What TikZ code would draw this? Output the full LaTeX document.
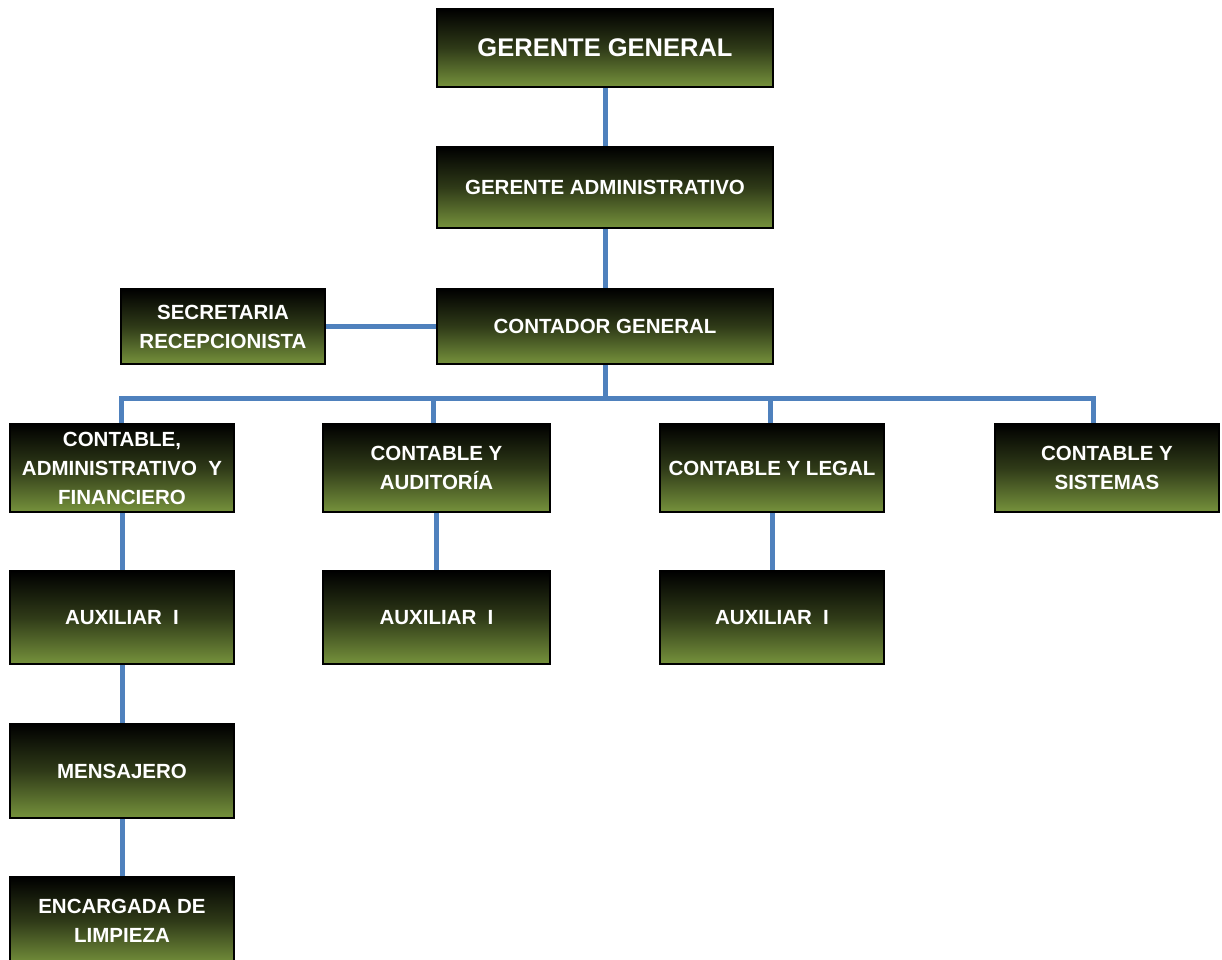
\documentclass[tikz,border=0pt]{standalone}
\usepackage{fontspec}
\setmainfont{Liberation Sans}
\usetikzlibrary{backgrounds,calc}
\definecolor{olivebot}{RGB}{118,146,60}
\definecolor{linkblue}{RGB}{79,129,189}
\begin{document}
\begin{tikzpicture}[x=1pt,y=-1pt,
  box/.style={draw=black, line width=2pt, rectangle, inner sep=0pt,
    top color=black, bottom color=olivebot, middle color={black!60!olivebot},
    text=white, font=\bfseries\fontsize{20.5}{29}\selectfont, align=center},
  link/.style={draw=linkblue, line width=5pt}]
\useasboundingbox (0,0) rectangle (1222,959);
\begin{scope}
\clip (0,0) rectangle (1222,959);
\node[box, minimum width=336, minimum height=78, font=\bfseries\fontsize{25.5}{29}\selectfont] (gg) at (605,48) {GERENTE GENERAL};
\node[box, minimum width=336, minimum height=81] (ga) at (605,187.5) {GERENTE ADMINISTRATIVO};
\node[box, minimum width=336, minimum height=75] (cg) at (605,326.5) {CONTADOR GENERAL};
\node[box, minimum width=204, minimum height=75] (sr) at (223,326.5) {SECRETARIA\\RECEPCIONISTA};
\node[box, minimum width=224, minimum height=88] (caf) at (122,468) {CONTABLE,\\ADMINISTRATIVO\ \ Y\\FINANCIERO};
\node[box, minimum width=227, minimum height=88] (ca) at (436.5,468) {CONTABLE Y\\AUDITORÍA};
\node[box, minimum width=224, minimum height=88] (cl) at (772,468) {CONTABLE Y LEGAL};
\node[box, minimum width=224, minimum height=88] (cs) at (1107,468) {CONTABLE Y\\SISTEMAS};
\node[box, minimum width=224, minimum height=93] (a1) at (122,617.5) {AUXILIAR\ \ I};
\node[box, minimum width=227, minimum height=93] (a2) at (436.5,617.5) {AUXILIAR\ \ I};
\node[box, minimum width=224, minimum height=93] (a3) at (772,617.5) {AUXILIAR\ \ I};
\node[box, minimum width=224, minimum height=94] (me) at (122,771) {MENSAJERO};
\node[box, minimum width=224, minimum height=88] (el) at (122,921) {ENCARGADA DE\\LIMPIEZA};
\end{scope}
\coordinate (bus) at (605,398);
\coordinate (dcaf) at (121,424);
\coordinate (dca) at (433,424);
\coordinate (dcl) at (770,424);
\coordinate (dcs) at (1093,424);
\begin{scope}[on background layer]
\draw[link] (gg.south) -- (ga.north);
\draw[link] (ga.south) -- (cg.north);
\draw[link] (sr.east) -- (cg.west);
\draw[link] (cg.south) -- (bus);
\draw[link] (dcaf) |- (bus) -| (dcs);
\draw[link] (bus) -| (dca);
\draw[link] (bus) -| (dcl);
\draw[link] (caf.south) -- (a1.north);
\draw[link] (ca.south) -- (a2.north);
\draw[link] (cl.south) -- (a3.north);
\draw[link] (a1.south) -- (me.north);
\draw[link] (me.south) -- (el.north);
\end{scope}
\end{tikzpicture}
\end{document}
